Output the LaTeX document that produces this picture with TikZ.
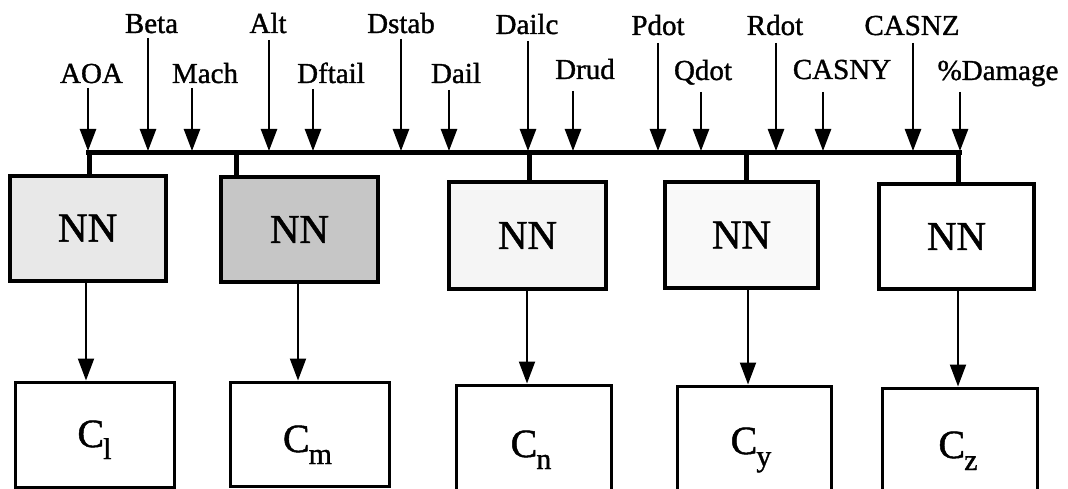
\documentclass[tikz,border=0pt]{standalone}
\usepackage{fontspec}
\setmainfont{Liberation Serif}[FakeBold=1.2,AutoFakeBold=1.2]
\newfontfamily\heavyserif{Liberation Serif}[FakeBold=1.2]
\usetikzlibrary{arrows.meta}
\tikzset{
  inlbl/.style={anchor=base, inner sep=0pt, font=\bfseries\fontsize{29}{30}\selectfont},
  nnbox/.style={draw, line width=4pt, inner sep=0pt, font=\bfseries\fontsize{41}{42}\selectfont},
  cbox/.style={draw, line width=3pt, inner sep=0pt},
  clbl/.style={anchor=base, inner sep=0pt, font=\bfseries\fontsize{40}{42}\selectfont},
  inarrow/.style={line width=2.5pt, -{Triangle[length=22pt,width=16pt]}},
  outarrow/.style={line width=2pt, -{Triangle[length=22pt,width=16pt]}},
  busline/.style={line width=5pt},
  dropline/.style={line width=5pt},
}
\newcommand{\csub}[1]{C\kern-1pt\raisebox{-12pt}{\fontsize{30}{30}\selectfont #1}}
\begin{document}
\begin{tikzpicture}[x=1pt,y=-1pt]
\useasboundingbox (0,0) rectangle (1068,489);

% input labels
\node[inlbl] (lAOA)   at (91.5,83) {AOA};
\node[inlbl] (lBeta)  at (151.5,33) {Beta};
\node[inlbl] (lMach)  at (205,83) {Mach};
\node[inlbl] (lAlt)   at (268,33) {Alt};
\node[inlbl] (lDftail) at (331,83) {Dftail};
\node[inlbl] (lDstab) at (401,33) {Dstab};
\node[inlbl] (lDail)  at (456,83) {Dail};
\node[inlbl] (lDailc) at (527,34) {Dailc};
\node[inlbl] (lDrud)  at (585,79) {Drud};
\node[inlbl] (lPdot)  at (658,35) {Pdot};
\node[inlbl] (lQdot)  at (703,80) {Qdot};
\node[inlbl] (lRdot)  at (775,35) {Rdot};
\node[inlbl] (lCASNY) at (842,79) {CASNY};
\node[inlbl] (lCASNZ) at (912,35) {CASNZ};
\node[inlbl] (lDamage) at (998,80) {\%Damage};

% arrow start points and bus hit points
\foreach \n/\x/\t in {AOA/88/88, Beta/148/38, Mach/192/88, Alt/269/40, Dftail/313/89,
  Dstab/401/39, Dail/449/90, Dailc/528/41, Drud/573/91, Pdot/658/43, Qdot/701/92,
  Rdot/776/43, CASNY/823/92, CASNZ/913/43, Damage/960/92}{
  \coordinate (t\n) at (\x,\t);
  \coordinate (h\n) at (\x,151);
}

% bus
\coordinate (busL) at (86,153);
\coordinate (busR) at (962,153);
\draw[busline] (busL) -- (busR);

% input arrows
\foreach \n in {AOA,Beta,Mach,Alt,Dftail,Dstab,Dail,Dailc,Drud,Pdot,Qdot,Rdot,CASNY,CASNZ,Damage}{
  \draw[inarrow] (t\n) -- (h\n);
}

% NN boxes
\node[nnbox, fill=gray!18, minimum width=156pt, minimum height=105pt] (NN1) at (87.6,228.1) {NN};
\node[nnbox, fill=gray!45, minimum width=157pt, minimum height=105pt] (NN2) at (299.5,229.5) {NN};
\node[nnbox, fill=gray!8,  minimum width=157pt, minimum height=107pt] (NN3) at (527.5,235.5) {NN};
\node[nnbox, fill=gray!5,  minimum width=153pt, minimum height=106pt] (NN4) at (741.5,235) {NN};
\node[nnbox, fill=white,   minimum width=155pt, minimum height=105pt] (NN5) at (956.5,236.5) {NN};

% drops from bus
\coordinate (d1) at (89,153);
\coordinate (d2) at (236,153);
\coordinate (d3) at (529,153);
\coordinate (d4) at (746,153);
\coordinate (d5) at (958,153);
\draw[dropline] (d1) -- (d1 |- NN1.north);
\draw[dropline] (d2) -- (d2 |- NN2.north);
\draw[dropline] (d3) -- (d3 |- NN3.north);
\draw[dropline] (d4) -- (d4 |- NN4.north);
\draw[dropline] (d5) -- (d5 |- NN5.north);

% coefficient boxes
\node[cbox, minimum width=159pt, minimum height=105pt] (C1) at (94.5,434.5) {};
\node[cbox, minimum width=159pt, minimum height=104pt] (C2) at (309.5,434) {};
\node[cbox, minimum width=155pt, minimum height=108pt] (C3) at (533.5,439) {};
\node[cbox, minimum width=154pt, minimum height=107pt] (C4) at (754,439.5) {};
\node[cbox, minimum width=155pt, minimum height=105pt] (C5) at (959.5,440.5) {};

\node[clbl] (tC1) at (94.5,447) {\csub{l}};
\node[clbl] (tC2) at (307.5,452) {\csub{m}};
\node[clbl] (tC3) at (531,457) {\csub{n}};
\node[clbl] (tC4) at (751,454) {\csub{y}};
\node[clbl] (tC5) at (958,458) {\csub{z}};

% output arrows
\coordinate (o1) at (86,0);
\coordinate (o2) at (298,0);
\coordinate (o3) at (527,0);
\coordinate (o4) at (748,0);
\coordinate (o5) at (958,0);
\draw[outarrow] (o1 |- NN1.south) -- (o1 |- C1.north);
\draw[outarrow] (o2 |- NN2.south) -- (o2 |- C2.north);
\draw[outarrow] (o3 |- NN3.south) -- (o3 |- C3.north);
\draw[outarrow] (o4 |- NN4.south) -- (o4 |- C4.north);
\draw[outarrow] (o5 |- NN5.south) -- (o5 |- C5.north);
\end{tikzpicture}
\end{document}
